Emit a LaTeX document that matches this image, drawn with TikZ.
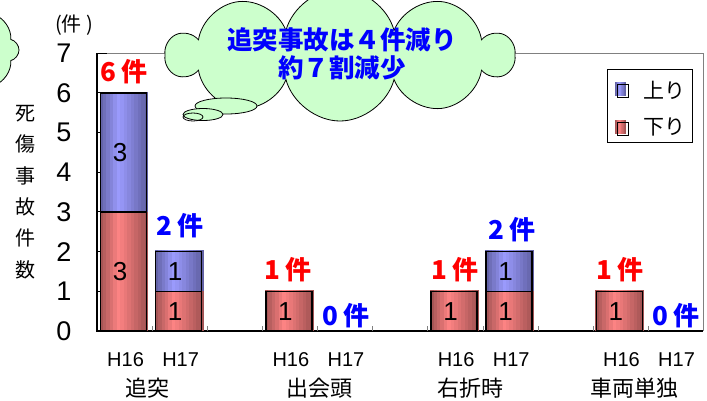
\documentclass[tikz,border=0pt]{standalone}
\usepackage{fontspec}
\setmainfont{Liberation Sans}
\newfontfamily\jp{Noto Sans CJK JP}
\usetikzlibrary{shapes.symbols,positioning}

\definecolor{uplight}{HTML}{9C9CFF}
\definecolor{updark}{HTML}{4A4A80}
\definecolor{downlight}{HTML}{FF8484}
\definecolor{downdark}{HTML}{7E4040}
\definecolor{cloudgreen}{HTML}{CCFFCC}

% bar face in vertical strips: light near 40%, dark edges
\newcommand\gradbar[5]{%
  \foreach \i in {0,...,13}{
    \pgfmathsetmacro\t{(\i+0.5)/14}
    \pgfmathtruncatemacro\p{\t<0.4 ? 25+75*\t/0.4 : 100-75*(\t-0.4)/0.6}
    \fill[#5light!\p!#5dark] ({#1+(#2-#1)*\i/14},#3) rectangle ({#1+(#2-#1)*(\i+1)/14+0.4},#4);
  }}

\begin{document}
\begin{tikzpicture}[x=1pt,y=-1pt,every node/.style={inner sep=0pt},
  bubble/.style={cloud,draw,thick,fill=cloudgreen},
  ticklab/.style={font=\fontsize{27}{27}\selectfont},
  barnum/.style={font=\fontsize{26}{26}\selectfont},
  redtag/.style={text=red,font=\jp\bfseries\fontsize{26}{26}\selectfont},
  bluetag/.style={text=blue,font=\jp\bfseries\fontsize{26}{26}\selectfont},
  yearlab/.style={font=\fontsize{20}{20}\selectfont},
  catlab/.style={font=\jp\fontsize{22}{22}\selectfont}]
\useasboundingbox (0,0) rectangle (707,400);
\clip (0,0) rectangle (707,400);

% plot frame and axes
\draw[gray] (97,53) -- (703,53) -- (703,331);
\draw[line width=1.5pt] (97,53) -- (97,331) -- (703,331);
\foreach \n in {0,...,7} {
  \draw[line width=1pt] (97,{331-39.7*\n}) -- ++(10,0);
  \node[ticklab] (y\n) at (64,{331-39.7*\n}) {\n};
}
\foreach \s in {1,...,10}
  \draw[gray] ({97+55.1*\s},331) -- ++(0,-5);

% bars
\foreach \s/\lo/\hi/\bc/\v [count=\k] in {0/0/3/down/3, 0/3/6/up/3, 1/0/1/down/1, 1/1/2/up/1,
    3/0/1/down/1, 6/0/1/down/1, 7/0/1/down/1, 7/1/2/up/1, 9/0/1/down/1} {
  \pgfmathsetmacro\xl{97+55.1*\s}
  \pgfmathsetmacro\yb{331-39.7*\lo}
  \pgfmathsetmacro\yt{331-39.7*\hi}
  \gradbar{\xl+2.5}{\xl+46}{\yb}{\yt-1.2}{\bc}
  \draw[line width=1.5pt] (\xl+3.5,\yb) rectangle (\xl+49.5,\yt);
  \node[barnum] (seg\k) at (\xl+23,{(\yb+\yt)/2}) {\v};
}

% totals
\node[redtag] (tot1) at (124,72) {6 件};
\node[bluetag] (tot2) at (180,226) {2 件};
\node[redtag] (tot3) at (288,270) {1 件};
\node[bluetag] (tot4) at (346,316) {0 件};
\node[redtag] (tot5) at (455,270) {1 件};
\node[bluetag] (tot6) at (512,230) {2 件};
\node[redtag] (tot7) at (620,270) {1 件};
\node[bluetag] (tot8) at (676,316) {0 件};

% x labels
\foreach \s/\yr in {0/H16,1/H17,3/H16,4/H17,6/H16,7/H17,9/H16,10/H17}
  \node[yearlab] (yr\s) at ({97+55.1*(\s+0.5)+1},360) {\yr};
\node[catlab] (cat1) at (147,388) {追突};
\node[catlab] (cat2) at (319,388) {出会頭};
\node[catlab] (cat3) at (470,388) {右折時};
\node[catlab] (cat4) at (634,388) {車両単独};

% y label
\node[align=center,font=\jp\fontsize{20}{31.4}\selectfont] (ylab) at (26,192) {死\\傷\\事\\故\\件\\数};
\node[font=\jp\fontsize{20}{20}\selectfont] (unit) at (74,25) {(件 )};

% legend
\node[draw,minimum width=85,minimum height=73] (legend) at (649.5,105.5) {};
\gradbar{615}{626}{82}{96}{up}
\draw[line width=1pt] (617,84) rectangle (628,97);
\gradbar{615}{626}{120}{134}{down}
\draw[line width=1pt] (617,122) rectangle (628,135);
\node[font=\jp\fontsize{21}{21}\selectfont] (lup) at (664,90) {上り};
\node[font=\jp\fontsize{21}{21}\selectfont] (ldown) at (664,127) {下り};

% clouds
\node[bubble,cloud puffs=8,minimum width=170,minimum height=100] (leftcloud) at (-66,50) {};
\node[bubble,cloud puffs=10,minimum width=345,minimum height=132] (msgcloud) at (340,55) {};
\draw[thick,fill=cloudgreen] (226,106) ellipse [x radius=31,y radius=8];
\draw[thick,fill=cloudgreen] (203,114.5) ellipse [x radius=20,y radius=6];
\draw[thick] (193,117) ellipse [x radius=10,y radius=4];
\node[align=center,text=blue,font=\jp\bfseries\fontsize{25.5}{28}\selectfont] (msg) at (342,54) {追突事故は４件減り\\約７割減少};
\end{tikzpicture}
\end{document}
